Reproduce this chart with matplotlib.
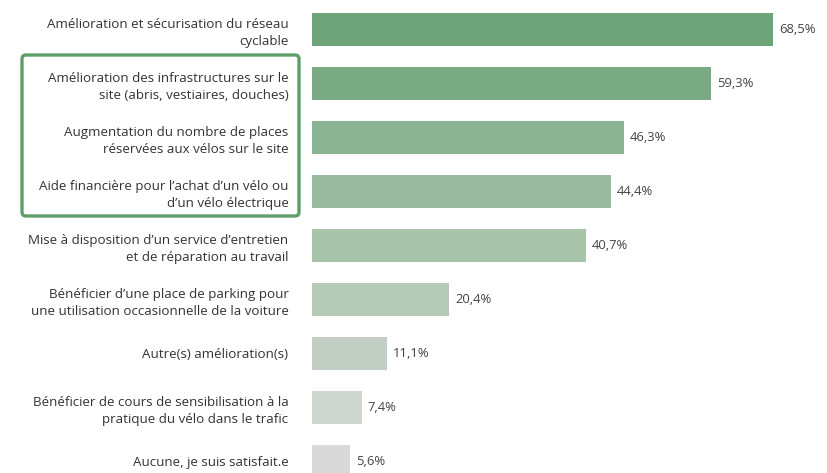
import matplotlib
matplotlib.use("Agg")
import matplotlib.pyplot as plt
from matplotlib.patches import FancyBboxPatch

plt.rcParams['font.family'] = ['Open Sans', 'DejaVu Sans']

labels = [
    "Amélioration et sécurisation du réseau\ncyclable",
    "Amélioration des infrastructures sur le\nsite (abris, vestiaires, douches)",
    "Augmentation du nombre de places\nréservées aux vélos sur le site",
    "Aide financière pour l’achat d’un vélo ou\nd’un vélo électrique",
    "Mise à disposition d’un service d’entretien\net de réparation au travail",
    "Bénéficier d’une place de parking pour\nune utilisation occasionnelle de la voiture",
    "Autre(s) amélioration(s)",
    "Bénéficier de cours de sensibilisation à la\npratique du vélo dans le trafic",
    "Aucune, je suis satisfait.e",
]
values = [68.5, 59.3, 46.3, 44.4, 40.7, 20.4, 11.1, 7.4, 5.6]
value_text = ["68,5%", "59,3%", "46,3%", "44,4%", "40,7%", "20,4%", "11,1%", "7,4%", "5,6%"]
colors = ["#6fa37a", "#7aaa84", "#8bb494", "#9aba9f", "#a8c4aa", "#b5cbb7",
          "#c2cec4", "#ced6d0", "#d9d9d9"]

W, H = 827, 473
fig = plt.figure(figsize=(W / 100, H / 100), dpi=100)
ax = fig.add_axes([312 / W, 0, (W - 312) / W, 1])

pos = list(range(len(values)))
ax.barh(pos, values, height=0.61, color=colors, edgecolor="none")
ax.set_xlim(0, 76.5)
ax.set_ylim(8.213, -0.546)

ax.set_yticks(pos, labels)
ax.tick_params(axis="y", length=0, pad=17, labelsize=9.6, labelcolor="#333333")
for lbl in ax.get_yticklabels():
    lbl.set_linespacing(1.4)
ax.set_xticks([])
for s in ax.spines.values():
    s.set_visible(False)

for p, v, t in zip(pos, values, value_text):
    ax.annotate(t, (v, p), xytext=(4.3, 0), textcoords="offset points",
                va="center", ha="left", fontsize=9.4, color="#444444")

# green frame around three labels
ov = fig.add_axes([0, 0, 1, 1], zorder=5)
ov.set_xlim(0, W)
ov.set_ylim(H, 0)
ov.axis("off")
ov.patch.set_alpha(0)
box = FancyBboxPatch((22, 55), 277, 161, boxstyle="round,pad=0,rounding_size=4",
                     fill=False, edgecolor="#5f9e6b", linewidth=2.4)
ov.add_patch(box)

fig.savefig("out.png", dpi=100, facecolor="white")
